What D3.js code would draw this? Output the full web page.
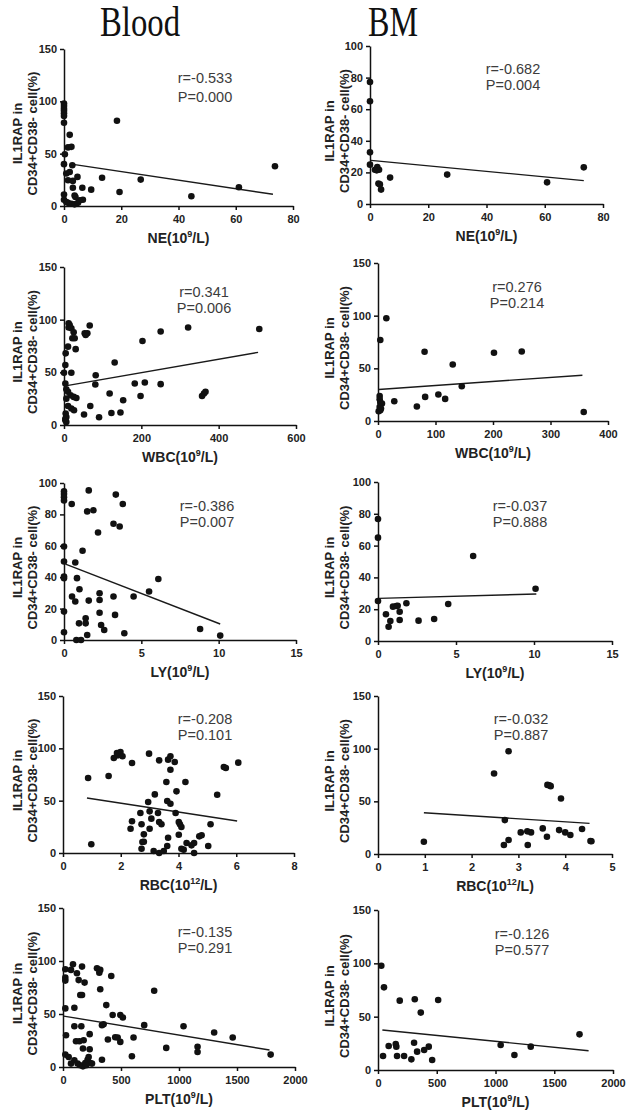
<!DOCTYPE html>
<html><head><meta charset="utf-8">
<script src="https://cdn.jsdelivr.net/npm/d3@7"></script>
<style>
body{margin:0;background:#fff;}
svg{display:block;}
.tick text{font-family:"Liberation Sans",Arial,sans-serif;font-weight:bold;font-size:11px;fill:#222;}
.domain,.tick line{stroke:#111;stroke-width:1.5px;}
</style></head>
<body><svg id="c" width="633" height="1114"></svg>
<script>
// ---------------- DATA ----------------
const columnTitles = ["Blood", "BM"];
const yTitle = ["IL1RAP in", "CD34+CD38- cell(%)"];

const bloodNE = [[0,98],[0,95.5],[0,93],[0,91],[0,88.5],[0,86],[0,79.5],[0.3,49.5],[0,40],[0,11],[0,6],[2,68],[1.4,56],[2.6,56.5],[0.8,31],[2,32.5],[1.4,24.6],[3.1,24],[3.1,17.5],[2.9,39],[4.7,27.8],[6.4,17.5],[6.6,6],[3.7,10],[1.4,3],[2.6,2.2],[3.7,1.6],[4.9,3],[5.5,5.4],[0.8,3.8],[4,8.6],[9.5,15.6],[13.3,27],[18.5,81.4],[19.4,13.4],[26.8,25.2],[44.5,9.3],[61.1,17.9],[73.7,38]];
const bloodNEFit = [[2.6,40],[73,11.2]];
const bmNE = [[0,77.2],[0,65],[0,32.7],[0,24.9],[1.7,21.7],[2.5,23.4],[3.1,21.7],[2.3,21.3],[2.9,12.9],[3.4,12.4],[3.8,9.1],[6.9,16.7],[26.5,18.6],[60.8,13.7],[73.4,23.2]];
const bmNEFit = [[0.3,27.6],[73.4,14.8]];

const bloodWBC = [[12,96.6],[14.7,94.9],[12,92.5],[19,91.8],[25,88],[66.5,94.4],[53.5,87],[60.4,87],[56,85.5],[21.6,82.3],[27.6,82.3],[10.4,74.4],[30.2,72],[4.3,68],[3.5,57],[0,49.6],[19,49.6],[82,47.3],[81,38.4],[131,59.4],[203,79.8],[250,88.7],[321,92.5],[505,91.2],[3.5,39.4],[6,34],[10.4,31.5],[17,28.3],[6,25],[25,26.7],[32,25.7],[10.4,18],[19,15.6],[25.9,14],[68,18],[4.3,10.8],[6,7.6],[3.5,4.4],[6,2.9],[3.5,6],[51.8,9.9],[90.7,7.3],[118,29.9],[122.6,11.4],[146,11.8],[153,23.5],[183,39.4],[209,40.4],[198,27.6],[250,38.8],[357,27.6],[362,29.9],[366,31.5]];
const bloodWBCFit = [[3.5,37.2],[502,69]];
const bmWBC = [[14.5,97.6],[4,76.9],[2.9,23.8],[2.9,20.7],[4,17.5],[6.9,16.5],[2.9,13.3],[4,10.2],[1.2,9.2],[5.2,11.8],[28.3,18.7],[67.6,13.7],[81,65.8],[82,22.9],[105,25.1],[116.8,21],[130,53.7],[145.7,33],[201.7,64.8],[250,66],[357.8,8.6]];
const bmWBCFit = [[1,29.9],[355.5,43.5]];

const bloodLY = [[0,94.7],[0,93],[0,91],[0,88.9],[0,59.6],[0,50],[0,40.4],[0,39.4],[0,18.1],[0,4.9],[0.5,86.6],[1.6,95.3],[1.5,81.9],[1.9,82.6],[2.2,68.5],[1.2,56.8],[0.73,49.4],[0.84,39.4],[1.0,32.3],[0.52,27.7],[0.73,24.5],[1.6,25.1],[2.3,29.8],[2.3,25.5],[2.3,17.4],[3.2,27.7],[3.3,16],[1.4,13.8],[1.4,10.6],[0.97,10.6],[2.4,9.6],[2.6,6.4],[1.5,3.2],[0.8,0],[1.1,0],[3.9,4.3],[3.35,92.6],[3.8,86.6],[3.2,74],[3.6,72.3],[4.5,27.7],[5.5,30.9],[6.1,38.9],[8.8,7],[10.1,2.8]];
const bloodLYFit = [[0.1,48.3],[10.1,10.2]];
const bmLY = [[0,76.7],[0,65],[0,25.2],[0.51,16.8],[0.68,9],[0.79,12.6],[0.96,21.6],[1.18,22],[1.26,22.2],[1.39,18.4],[1.39,13.2],[1.82,23.7],[2.6,12.8],[3.6,13.8],[4.5,23.3],[6.1,53.5],[10.1,32.9]];
const bmLYFit = [[0.05,26.8],[10.15,29.6]];

const bloodRBC = [[0.87,71.7],[0.98,8.3],[1.58,73.6],[1.76,90.8],[1.9,93.3],[1.99,96.5],[2.06,92.4],[1.87,95.5],[2.39,86],[2.34,23.2],[2.39,30.3],[2.68,38.2],[2.72,27.4],[2.8,17.8],[2.75,10.5],[2.8,10.8],[2.72,4.1],[2.95,48.7],[2.98,94.9],[3.0,39.8],[3.0,23.2],[3.06,32.8],[3.14,1.9],[3.18,56],[3.29,38.2],[3.33,88.5],[3.33,29.6],[3.41,27.4],[3.33,0],[3.49,1.9],[3.58,67.8],[3.61,49.7],[3.64,14.6],[3.61,6.7],[3.64,89.2],[3.72,92.4],[3.72,79.6],[3.72,47.1],[3.87,86.9],[3.9,38.2],[3.93,58.9],[4.01,29.6],[4.05,27.4],[4.1,24.8],[4.01,17.5],[4.1,4.1],[4.18,3.2],[4.24,67.8],[4.28,9.5],[4.45,7.3],[4.54,9.5],[4.54,0],[4.72,15.9],[4.8,16.9],[5.03,6.7],[5.11,27.4],[5.34,55.7],[5.57,82.2],[5.64,81.2],[6.07,86.3]];
const bloodRBCFit = [[0.83,52.5],[6.03,30.6]];
const bmRBC = [[0.98,11.7],[2.48,76.4],[2.79,97.6],[2.71,32.2],[2.69,8.5],[2.79,13.3],[3.05,20.5],[3.19,21.5],[3.27,20.5],[3.2,8.5],[3.52,24.3],[3.61,16.4],[3.62,65.6],[3.66,65.3],[3.69,64.4],[3.91,52.7],[3.87,22.7],[4.0,20.5],[4.11,18],[4.36,23.7],[4.54,12.3],[4.56,12.1]];
const bmRBCFit = [[0.98,39.2],[4.52,29.1]];

const bloodPLT = [[20,92.2],[20,84.3],[20,81.5],[20,55.3],[26,30],[20,11.7],[49,9.5],[69,91.6],[86,97],[98,55.9],[98,38.5],[112,24.3],[98,6.3],[126,3.2],[69,3.2],[120,88.4],[135,82],[149,67.9],[164,67.9],[164,94.7],[141,24.3],[158,38.5],[172,17.4],[149,1.6],[172,0.6],[178,25.3],[186,79.6],[192,3.8],[212,6.9],[221,9.5],[230,16.7],[230,31],[235,3.8],[250,3.2],[200,1.6],[293,93.2],[321,91.6],[313,89],[321,73.3],[336,39.5],[350,40.4],[336,6.9],[373,58.4],[387,25.9],[416,85.9],[428,49],[450,28.1],[471,27.8],[494,23.7],[494,49],[516,46.7],[608,27.8],[594,10.1],[700,39.5],[786,72],[890,18],[1039,38.5],[1160,19],[1160,14.2],[1303,32.5],[1463,27.8],[1790,11.7]];
const bloodPLTFit = [[6,48],[1780,16]];
const bmPLT = [[28,97.8],[51,77.5],[43,13.1],[91,22.5],[151,24.4],[156,21.9],[162,13.1],[222,13.1],[185,65],[284,10],[307,25.6],[313,66.3],[333,17.2],[364,53.8],[393,18.8],[432,21.9],[461,9.4],[512,65.6],[1044,23.4],[1161,14.1],[1300,21.9],[1715,33.4]];
const bmPLTFit = [[37,37.5],[1792,18.1]];

const statLabels = [["r=-0.533","P=0.000"],["r=-0.682","P=0.004"],["r=0.341","P=0.006"],["r=0.276","P=0.214"],["r=-0.386","P=0.007"],["r=-0.037","P=0.888"],["r=-0.208","P=0.101"],["r=-0.032","P=0.887"],["r=-0.135","P=0.291"],["r=-0.126","P=0.577"]];
const xTitles = [["NE(10","9","/L)"],["WBC(10","9","/L)"],["LY(10","9","/L)"],["RBC(10","12","/L)"],["PLT(10","9","/L)"]];
const xTicksNE = [0,20,40,60,80], xTicksWBCb = [0,200,400,600], xTicksWBCm = [0,100,200,300,400], xTicksLY = [0,5,10,15], xTicksRBCb = [0,2,4,6,8], xTicksRBCm = [0,1,2,3,4,5], xTicksPLT = [0,500,1000,1500,2000];
const yTicks150 = [0,50,100,150], yTicks100 = [0,20,40,60,80,100];

// ---------------- LAYOUT ----------------
const panels = [
 {col:0,row:0,x:[64,293],y:[49,206],pts:bloodNE,fit:bloodNEFit,xt:xTicksNE,yt:yTicks150,stat:[205,83,102]},
 {col:1,row:0,x:[370,603],y:[46,204],pts:bmNE,fit:bmNEFit,xt:xTicksNE,yt:yTicks100,stat:[513,74,90]},
 {col:0,row:1,x:[64,296],y:[267,425],pts:bloodWBC,fit:bloodWBCFit,xt:xTicksWBCb,yt:yTicks150,stat:[204,297,313]},
 {col:1,row:1,x:[378,608],y:[263,421],pts:bmWBC,fit:bmWBCFit,xt:xTicksWBCm,yt:yTicks150,stat:[517,292,308]},
 {col:0,row:2,x:[64,296],y:[483,640],pts:bloodLY,fit:bloodLYFit,xt:xTicksLY,yt:yTicks100,stat:[207,511,527]},
 {col:1,row:2,x:[378,612],y:[482,641],pts:bmLY,fit:bmLYFit,xt:xTicksLY,yt:yTicks100,stat:[520,511,527]},
 {col:0,row:3,x:[63,294],y:[696,853],pts:bloodRBC,fit:bloodRBCFit,xt:xTicksRBCb,yt:yTicks150,stat:[205,724,740]},
 {col:1,row:3,x:[378,612],y:[696,854],pts:bmRBC,fit:bmRBCFit,xt:xTicksRBCm,yt:yTicks150,stat:[521,724,740]},
 {col:0,row:4,x:[63,295],y:[908,1067],pts:bloodPLT,fit:bloodPLTFit,xt:xTicksPLT,yt:yTicks150,stat:[205,937,953]},
 {col:1,row:4,x:[378,613],y:[910,1070],pts:bmPLT,fit:bmPLTFit,xt:xTicksPLT,yt:yTicks150,stat:[522,939,955]}
];
const yTitleX = [[17,32],[329,344]];
const titleX = [140,393];

const svg = d3.select("#c");
const sans = '"Liberation Sans",Arial,sans-serif';

columnTitles.forEach((t,i)=>{
  svg.append("text").attr("x",titleX[i]).attr("y",36).attr("text-anchor","middle")
    .attr("font-family",'"Liberation Serif","Times New Roman",serif').attr("font-size",42)
    .attr("textLength", i===0?80:50).attr("lengthAdjust","spacingAndGlyphs")
    .attr("fill","#111").text(t);
});

panels.forEach((p,i)=>{
  const xs = d3.scaleLinear().domain([p.xt[0], p.xt[p.xt.length-1]]).range(p.x);
  const ys = d3.scaleLinear().domain([p.yt[0], p.yt[p.yt.length-1]]).range([p.y[1], p.y[0]]);
  const g = svg.append("g");
  g.append("g").attr("transform",`translate(0,${p.y[1]})`)
    .call(d3.axisBottom(xs).tickValues(p.xt).tickSize(4).tickSizeOuter(0).tickPadding(5).tickFormat(d3.format("d")));
  g.append("g").attr("transform",`translate(${p.x[0]},0)`)
    .call(d3.axisLeft(ys).tickValues(p.yt).tickSize(4).tickSizeOuter(0).tickPadding(3).tickFormat(d3.format("d")));
  // fit line
  g.append("line").attr("x1",xs(p.fit[0][0])).attr("y1",ys(p.fit[0][1]))
    .attr("x2",xs(p.fit[1][0])).attr("y2",ys(p.fit[1][1]))
    .attr("stroke","#1a1a1a").attr("stroke-width",1.4);
  // points
  g.selectAll("circle").data(p.pts).join("circle")
    .attr("cx",d=>xs(d[0])).attr("cy",d=>ys(d[1])).attr("r",3.3).attr("fill","#111");
  // stats
  statLabels[i].forEach((s,k)=>{
    g.append("text").attr("x",p.stat[0]).attr("y",p.stat[1+k]).attr("text-anchor","middle")
      .attr("font-family",sans).attr("font-size",14.5).attr("fill","#3c3c3c").text(s);
  });
  // x title
  const xt = xTitles[p.row];
  const tx = g.append("text").attr("x",(p.x[0]+p.x[1])/2).attr("y",p.y[1]+37).attr("text-anchor","middle")
    .attr("font-family",sans).attr("font-weight","bold").attr("font-size",14).attr("fill","#222");
  tx.append("tspan").text(xt[0]);
  tx.append("tspan").attr("font-size",9).attr("dy",-6).text(xt[1]);
  tx.append("tspan").attr("dy",6).text(xt[2]);
  // y title
  const cy = (p.y[0]+p.y[1])/2 + 6;
  yTitle.forEach((s,k)=>{
    g.append("text").attr("transform",`translate(${yTitleX[p.col][k]},${cy}) rotate(-90)`)
      .attr("text-anchor","middle").attr("dy","0.35em")
      .attr("font-family",sans).attr("font-weight","bold").attr("font-size",13).attr("fill","#222").text(s);
  });
});
</script></body></html>
